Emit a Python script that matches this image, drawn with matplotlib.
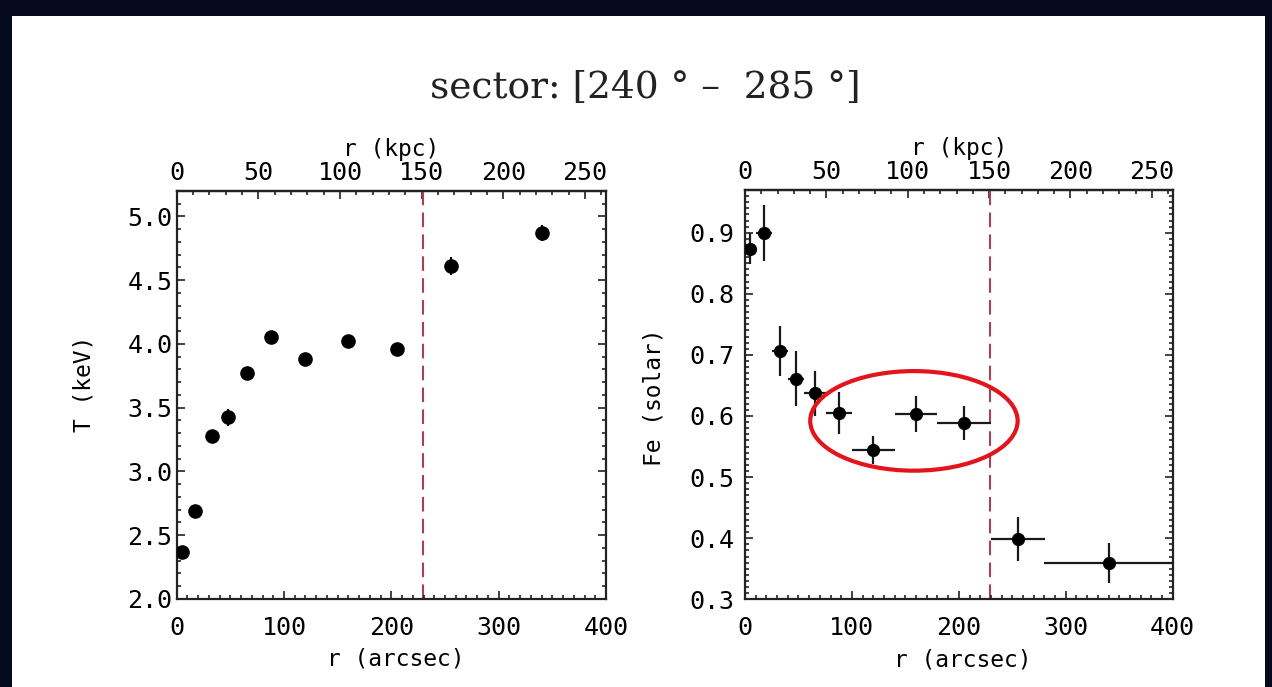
import matplotlib as mpl
import matplotlib.pyplot as plt
from matplotlib.ticker import MultipleLocator, FixedLocator
from matplotlib.patches import Ellipse, Rectangle

mpl.rcParams['font.family'] = 'DejaVu Sans Mono'

# Data
r_arcsec = [5, 17.5, 32.5, 48, 65.5, 88, 120, 160, 205, 255.5, 340]
r_err = [5, 7.5, 7.5, 7.5, 10, 12.5, 20, 20, 25, 25, 60]
T_keV = [2.365, 2.69, 3.276, 3.424, 3.775, 4.055, 3.879, 4.027, 3.962, 4.61, 4.87]
T_err = [0.02, 0.02, 0.03, 0.07, 0.03, 0.03, 0.03, 0.03, 0.03, 0.07, 0.06]
Fe = [0.874, 0.899, 0.706, 0.661, 0.637, 0.605, 0.544, 0.603, 0.589, 0.398, 0.359]
Fe_err = [0.025, 0.046, 0.041, 0.045, 0.037, 0.034, 0.023, 0.029, 0.028, 0.036, 0.033]
kpc_ticks = [0, 50, 100, 150, 200, 250]

kpc_per_arcsec = 0.657
r_cut = 229.5            # 150 kpc boundary (arcsec)
title = 'sector: [240 \u00b0 \u2013  285 \u00b0]'

# highlight ellipse on Fe panel (data coords)
ell_center = (158, 0.592)
ell_w, ell_h = 194, 0.163

navy = '#060a1f'
dash_col = '#a8414f'

fig = plt.figure(figsize=(12.72, 6.87), dpi=100, facecolor=navy)
fig.patches.append(Rectangle((0.0094, 0.0), 0.985, 0.9767, transform=fig.transFigure,
                             facecolor='white', edgecolor='none', zorder=-10))

ax1 = fig.add_axes([0.1389, 0.1281, 0.3375, 0.5939])
ax2 = fig.add_axes([0.5857, 0.1277, 0.3362, 0.5958])


def style(ax, ylo, yhi, ymaj, ymin, ypad):
    ax.set_xlim(0, 400)
    ax.set_ylim(ylo, yhi)
    ax.xaxis.set_major_locator(MultipleLocator(100))
    ax.xaxis.set_minor_locator(MultipleLocator(10))
    ax.yaxis.set_major_locator(MultipleLocator(ymaj))
    ax.yaxis.set_minor_locator(MultipleLocator(ymin))
    ax.tick_params(axis='both', which='both', direction='in', top=False, right=True,
                   width=1.2, color='#222222')
    ax.tick_params(axis='both', which='major', length=6, labelsize=18)
    ax.tick_params(axis='both', which='minor', length=3)
    ax.tick_params(axis='x', pad=12)
    ax.tick_params(axis='y', pad=ypad)
    for s in ax.spines.values():
        s.set_linewidth(1.6)
        s.set_color('#222222')
    ax.axvline(r_cut, color=dash_col, lw=1.5, ls=(0, (7, 3.5)), zorder=1)
    ax.set_xlabel('r (arcsec)', fontsize=16.5)
    ax.xaxis.set_label_coords(0.51, -0.12)

    sec = ax.secondary_xaxis('top', functions=(lambda a: a * kpc_per_arcsec,
                                               lambda k: k / kpc_per_arcsec))
    sec.xaxis.set_major_locator(FixedLocator(kpc_ticks))
    sec.xaxis.set_minor_locator(MultipleLocator(10))
    sec.tick_params(axis='x', which='both', direction='in', width=1.2, color='#222222')
    sec.tick_params(axis='x', which='major', length=6, labelsize=18, pad=4)
    sec.tick_params(axis='x', which='minor', length=3)
    sec.spines['top'].set_linewidth(1.6)
    sec.set_xlabel('r (kpc)', fontsize=16.5, labelpad=4)


style(ax1, 2.0, 5.2, 0.5, 0.1, 3)
ax1.errorbar(r_arcsec, T_keV, yerr=T_err, fmt='o', color='k', ms=9.5,
             elinewidth=1.5, capsize=0, zorder=3)
ax1.yaxis.set_major_formatter(mpl.ticker.FormatStrFormatter('%.1f'))
ax1.set_ylabel('T (keV)', fontsize=16.5)
ax1.yaxis.set_label_coords(-0.19, 0.527)

style(ax2, 0.3, 0.97, 0.1, 0.01, 8)
ax2.errorbar(r_arcsec, Fe, xerr=r_err, yerr=Fe_err, fmt='o', color='k', ms=8.5,
             ecolor='#1a1a1a', elinewidth=1.6, capsize=0, zorder=3)
ax2.yaxis.set_major_formatter(mpl.ticker.FormatStrFormatter('%.1f'))
ax2.set_ylabel('Fe (solar)', fontsize=16.5)
ax2.yaxis.set_label_coords(-0.185, 0.494)
ax2.add_patch(Ellipse(ell_center, ell_w, ell_h, facecolor='none',
                      edgecolor='#e3141b', lw=3.0, zorder=4, clip_on=False))

fig.text(0.507, 0.872, title, family='DejaVu Serif', fontsize=27,
         ha='center', va='center', color='#222222')

fig.savefig('out.png', dpi=100, facecolor=navy)
